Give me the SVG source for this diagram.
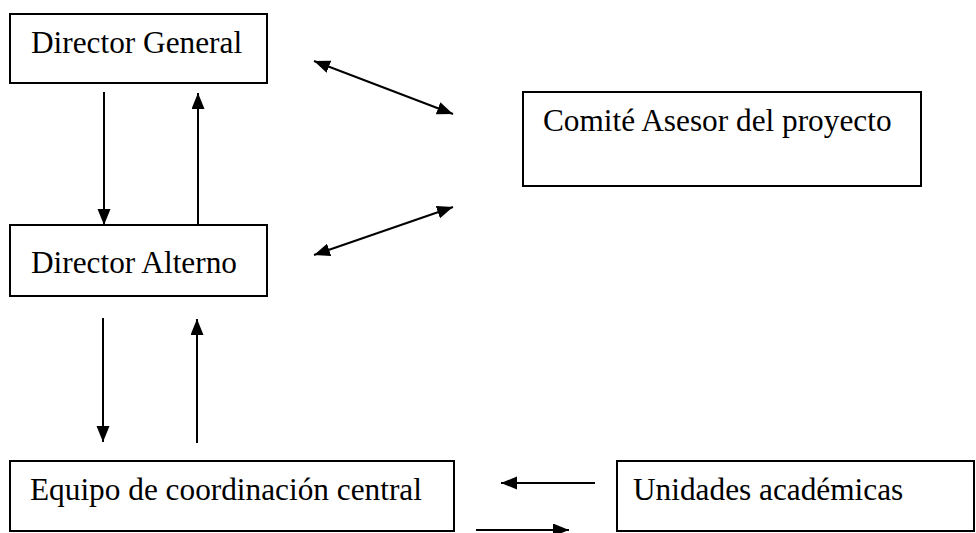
<svg xmlns="http://www.w3.org/2000/svg" width="976" height="533" viewBox="0 0 976 533">
<defs>
<style>
.box{fill:#fff;stroke:#000;stroke-width:2}
.lbl{font-family:"Liberation Serif","Times New Roman",serif;font-size:31.3px;fill:#000}
.con{stroke:#000;stroke-width:2;fill:none}
</style>
<marker id="ah" markerUnits="userSpaceOnUse" markerWidth="17" markerHeight="14" refX="16" refY="6.5" orient="auto-start-reverse">
<path d="M0,0 L16,6.5 L0,13 z" fill="#000"/>
</marker>
</defs>
<rect width="976" height="533" fill="#fff"/>
<g id="director-general"><rect class="box" x="10" y="14" width="257" height="69"/><text class="lbl" x="31" y="53">Director General</text></g>
<g id="comite"><rect class="box" x="523" y="92" width="398" height="94"/><text class="lbl" x="543" y="131">Comité Asesor del proyecto</text></g>
<g id="director-alterno"><rect class="box" x="10" y="225" width="257" height="71"/><text class="lbl" x="31" y="273">Director Alterno</text></g>
<g id="equipo"><rect class="box" x="10" y="461" width="444" height="70"/><text class="lbl" x="30" y="500">Equipo de coordinación central</text></g>
<g id="unidades"><rect class="box" x="617" y="461" width="357" height="70"/><text class="lbl" x="633" y="500">Unidades académicas</text></g>
<g id="connectors">
<line class="con" x1="104" y1="92" x2="104" y2="225" marker-end="url(#ah)"/>
<line class="con" x1="198" y1="225" x2="198" y2="93" marker-end="url(#ah)"/>
<line class="con" x1="314" y1="61" x2="453" y2="114" marker-start="url(#ah)" marker-end="url(#ah)"/>
<line class="con" x1="314" y1="255" x2="453" y2="207" marker-start="url(#ah)" marker-end="url(#ah)"/>
<line class="con" x1="103" y1="318" x2="103" y2="442" marker-end="url(#ah)"/>
<line class="con" x1="197" y1="443" x2="197" y2="319" marker-end="url(#ah)"/>
<line class="con" x1="595" y1="483" x2="501" y2="483" marker-end="url(#ah)"/>
<line class="con" x1="476" y1="530" x2="569" y2="530" marker-end="url(#ah)"/>
</g>
</svg>
